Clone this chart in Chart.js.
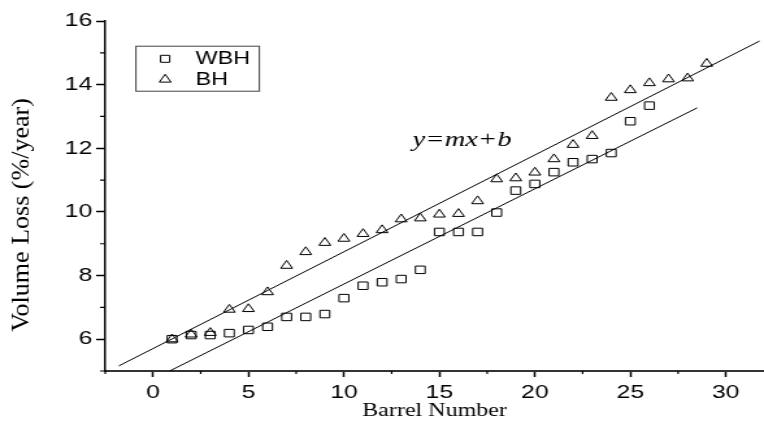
<!DOCTYPE html>
<html>
<head>
<meta charset="utf-8">
<script src="https://cdn.jsdelivr.net/npm/chart.js@4.4.1/dist/chart.umd.min.js"></script>
<style>
  html, body { margin: 0; padding: 0; background: #fff; overflow: hidden; }
  #wrap { width: 588px; height: 428px; transform: scaleX(1.2993); transform-origin: 0 0; }
</style>
</head>
<body>
<div id="wrap"><canvas id="chart"></canvas></div>
<script>
// barrel numbers and measured volume loss (%/year)
var wbhBarrel = [1,2,3,4,5,6,7,8,9,10,11,12,13,14,15,16,17,18,19,20,21,22,23,24,25,26];
var wbhLoss   = [6.0,6.13,6.13,6.19,6.29,6.39,6.70,6.70,6.79,7.29,7.68,7.79,7.89,8.18,9.37,9.37,9.37,9.98,10.67,10.88,11.25,11.56,11.66,11.85,12.85,13.34];

var bhBarrel = [1,2,3,4,5,6,7,8,9,10,11,12,13,14,15,16,17,18,19,20,21,22,23,24,25,26,27,28,29];
var bhLoss   = [6.0,6.15,6.2,6.93,6.95,7.48,8.31,8.74,9.03,9.16,9.31,9.43,9.77,9.80,9.92,9.94,10.34,11.03,11.06,11.24,11.66,12.11,12.39,13.59,13.83,14.05,14.17,14.2,14.66];

// end points of the two fitted lines y=mx+b
var wbhFitX = [0.87, 28.5];
var wbhFitY = [5.0, 13.27];
var bhFitX  = [-1.79, 31.77];
var bhFitY  = [5.16, 15.37];

var xTickLabels = [0, 5, 10, 15, 20, 25, 30];
var yTickLabels = [6, 8, 10, 12, 14, 16];

function pts(xs, ys) {
    return xs.map(function(x, i) { return {x: x, y: ys[i]}; });
}

var sans = '"Liberation Sans", Arial, sans-serif';
var serif = '"Liberation Serif", "Times New Roman", serif';

var extras = {
    id: 'extras',
    afterDraw: function(chart) {
        var ctx = chart.ctx, area = chart.chartArea;
        var xs = chart.scales.x, ys = chart.scales.y;
        ctx.save();

        // short minor ticks
        ctx.strokeStyle = '#000';
        ctx.lineWidth = 1.2;
        ctx.beginPath();
        xs.ticks.forEach(function(t) {
            if (xTickLabels.indexOf(t.value) < 0) {
                var px = xs.getPixelForValue(t.value);
                ctx.moveTo(px, area.bottom);
                ctx.lineTo(px, area.bottom + 3);
            }
        });
        ys.ticks.forEach(function(t) {
            if (yTickLabels.indexOf(t.value) < 0) {
                var py = ys.getPixelForValue(t.value);
                ctx.moveTo(area.left, py);
                ctx.lineTo(area.left - 4, py);
            }
        });
        ctx.stroke();

        // y axis title, drawn by hand so it can sit a bit low and long like the original
        ctx.save();
        ctx.fillStyle = '#000';
        ctx.font = '19px ' + serif;
        ctx.textAlign = 'center';
        ctx.textBaseline = 'middle';
        ctx.translate(17, 215);
        ctx.rotate(-Math.PI / 2);
        ctx.scale(1.37, 1);
        ctx.fillText(ys.options.title.text, 0, 0);
        ctx.restore();

        // legend box
        var lx = area.left + 23.6, ly = area.top + 25.2;
        ctx.strokeStyle = '#444';
        ctx.lineWidth = 1;
        ctx.strokeRect(lx, ly, 95, 45);

        ctx.strokeStyle = '#000';
        ctx.beginPath();
        ctx.rect(lx + 22.5 - 3.5, ly + 12.6 - 3.5, 7, 7);
        ctx.stroke();
        var r = 5.2, ty = ly + 33.3;
        ctx.beginPath();
        ctx.moveTo(lx + 22.5, ty - r);
        ctx.lineTo(lx + 22.5 + r * 0.866, ty + r / 2);
        ctx.lineTo(lx + 22.5 - r * 0.866, ty + r / 2);
        ctx.closePath();
        ctx.stroke();

        ctx.fillStyle = '#000';
        ctx.font = '18px ' + sans;
        ctx.textAlign = 'left';
        ctx.textBaseline = 'middle';
        ctx.fillText(chart.data.datasets[0].label, lx + 46, ly + 13);
        ctx.fillText(chart.data.datasets[1].label, lx + 46, ly + 34);

        // equation label
        ctx.font = 'italic 22px ' + serif;
        ctx.fillText('y=mx+b', xs.getPixelForValue(13.6), ys.getPixelForValue(12.24));
        ctx.restore();
    }
};

var ctx = document.getElementById('chart').getContext('2d');
var myChart = new Chart(ctx, {
    type: 'scatter',
    data: {
        datasets: [{
            label: 'WBH',
            data: pts(wbhBarrel, wbhLoss),
            pointStyle: 'rect',
            pointRadius: 5.3,
            borderColor: '#000',
            backgroundColor: 'rgba(0,0,0,0)',
            borderWidth: 1
        }, {
            label: 'BH',
            data: pts(bhBarrel, bhLoss),
            pointStyle: 'triangle',
            pointRadius: 5.2,
            borderColor: '#000',
            backgroundColor: 'rgba(0,0,0,0)',
            borderWidth: 1
        }, {
            label: 'WBH fit',
            data: pts(wbhFitX, wbhFitY),
            showLine: true,
            pointRadius: 0,
            borderColor: '#000',
            borderWidth: 1
        }, {
            label: 'BH fit',
            data: pts(bhFitX, bhFitY),
            showLine: true,
            pointRadius: 0,
            borderColor: '#000',
            borderWidth: 1
        }]
    },
    options: {
        responsive: true,
        maintainAspectRatio: false,
        animation: false,
        layout: { autoPadding: false, padding: { top: 21, right: 0, left: 0, bottom: 0 } },
        plugins: {
            legend: { display: false },
            tooltip: { enabled: false }
        },
        scales: {
            x: {
                type: 'linear',
                min: -2.5,
                max: 32,
                afterFit: function(scale) {
                    scale.height = 57;
                    scale.paddingLeft = 0;
                    scale.paddingRight = 0;
                },
                border: { display: true, color: '#333', width: 2 },
                grid: {
                    drawOnChartArea: false,
                    tickLength: 6,
                    tickWidth: 1.5,
                    tickColor: function(c) { return xTickLabels.indexOf(c.tick.value) < 0 ? 'rgba(0,0,0,0)' : '#000'; }
                },
                ticks: {
                    stepSize: 2.5,
                    includeBounds: false,
                    autoSkip: false,
                    maxRotation: 0,
                    padding: 4,
                    color: '#000',
                    font: { family: sans, size: 19 },
                    callback: function(v) { return xTickLabels.indexOf(v) < 0 ? '' : v; }
                },
                title: {
                    display: true,
                    text: 'Barrel Number',
                    color: '#000',
                    font: { family: serif, size: 18.5 },
                    padding: { top: 0, bottom: 6 }
                }
            },
            y: {
                min: 5,
                max: 16,
                afterFit: function(scale) { scale.width = 81; },
                border: { display: true, color: '#000', width: 1.5 },
                grid: {
                    drawOnChartArea: false,
                    tickLength: 7,
                    tickWidth: 1.5,
                    tickColor: function(c) { return yTickLabels.indexOf(c.tick.value) < 0 ? 'rgba(0,0,0,0)' : '#000'; }
                },
                ticks: {
                    stepSize: 1,
                    autoSkip: false,
                    padding: 3,
                    color: '#000',
                    font: { family: sans, size: 19 },
                    callback: function(v) { return yTickLabels.indexOf(v) < 0 ? '' : v; }
                },
                title: {
                    display: false,
                    text: 'Volume Loss (%/year)'
                }
            }
        }
    },
    plugins: [extras]
});
</script>
</body>
</html>
